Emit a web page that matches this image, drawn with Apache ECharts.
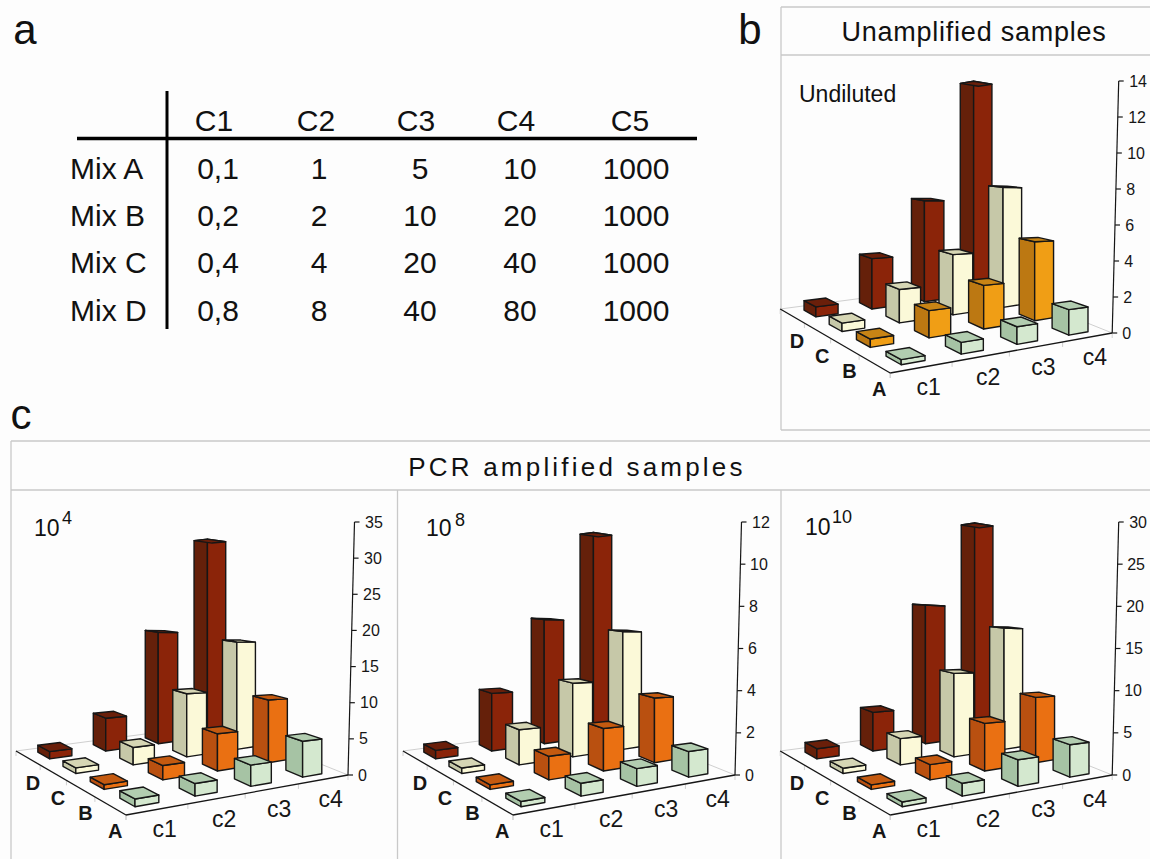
<!DOCTYPE html>
<html><head><meta charset="utf-8">
<script src="https://cdn.jsdelivr.net/npm/echarts@6/dist/echarts.min.js"></script>
<style>html,body{margin:0;padding:0;background:#fdfdfd}#main{width:1150px;height:859px}</style>
</head><body><div id="main"></div>
<script>
// ---------- data ----------
const columnNames = ['c1','c2','c3','c4'];
const rowNames = ['A','B','C','D'];
const undilutedA = [0.25,0.6,0.93,1.4];
const undilutedB = [0.43,1.45,2.4,4.5];
const undilutedC = [0.45,1.85,3.45,7.1];
const undilutedD = [0.55,2.9,6.0,13.1];
const pcr4A = [0.95,1.6,2.8,4.9];
const pcr4B = [0.6,1.9,5.1,8.9];
const pcr4C = [0.75,2.4,9,15.8];
const pcr4D = [1.0,4.7,16.5,30.2];
const pcr8A = [0.22,0.56,0.8,1.2];
const pcr8B = [0.2,1.07,2,3.15];
const pcr8C = [0.25,1.66,3.6,5.95];
const pcr8D = [0.4,2.83,6.3,10.7];
const pcr10A = [0.5,1.4,3,3.8];
const pcr10B = [0.5,1.73,5.6,7.95];
const pcr10C = [0.6,3.1,10.2,15.3];
const pcr10D = [1.2,4.75,17.6,28];
const tableColumns = ['C1','C2','C3','C4','C5'];
const tableRows = ['Mix A','Mix B','Mix C','Mix D'];
const tableMixA = ['0,1','1','5','10','1000'];
const tableMixB = ['0,2','2','10','20','1000'];
const tableMixC = ['0,4','4','20','40','1000'];
const tableMixD = ['0,8','8','40','80','1000'];
const orangeB = ['#F09E15','#BC7812','#C88415'];
const orangeC = ['#EA7012','#B95010','#C45A10'];
const red = ['#8B2409','#65200A','#6A1F0A'];
const cream = ['#FBF9D8','#C6C8A8','#D6D6B4'];
const green = ['#D4E8CF','#A6C3A4','#B2CDB0'];

// ---------- floor projection (offsets from the right corner of the floor) ----------
const P00=[-222,40],P10=[0,0],P11=[-127,-51],P01=[-332,-24];
const dx1=P10[0]-P11[0],dx2=P01[0]-P11[0],sx=P00[0]-P10[0]+P11[0]-P01[0];
const dy1=P10[1]-P11[1],dy2=P01[1]-P11[1],sy=P00[1]-P10[1]+P11[1]-P01[1];
const den=dx1*dy2-dx2*dy1;
const G=(sx*dy2-dx2*sy)/den,H=(dx1*sy-sx*dy1)/den;
const A_=P10[0]-P00[0]+G*P10[0],B_=P01[0]-P00[0]+H*P01[0],C_=P00[0];
const D_=P10[1]-P00[1]+G*P10[1],E_=P01[1]-P00[1]+H*P01[1],F_=P00[1];
function proj(rx,ry,u,v){const w=1+G*u+H*v;return [rx+(A_*u+B_*v+C_)/w,ry+(D_*u+E_*v+F_)/w,w];}
const W_AXIS=1+G;
const BAR_U=0.097,BAR_V=0.12,TILT=6.5,HEIGHT_FALLOFF=2.2;
const INK='#161616',FAINT='#cfcfcf';
const FONT='"Liberation Sans",Arial,sans-serif';

function poly(pts,fill,stroke,lw){return {type:'polygon',shape:{points:pts},style:{fill:fill,stroke:stroke,lineWidth:lw,lineJoin:'round'}};}
function line(a,b,stroke,lw){return {type:'line',shape:{x1:a[0],y1:a[1],x2:b[0],y2:b[1]},style:{stroke:stroke,lineWidth:lw,fill:null}};}
function txt(s,x,y,size,weight,align){return {type:'text',style:{text:s,x:x,y:y,fontSize:size,fontWeight:weight||'normal',fontFamily:FONT,fill:INK,align:align||'center',verticalAlign:'middle'}};}

function renderBar(colors,shift){return function(params,api){
  const cs=params.coordSys,rx=cs.x+cs.width+shift,ry=cs.y+cs.height;
  const col=api.value(0),val=api.value(1),row=api.value(2);
  const pal=row===3?red:row===2?cream:row===1?colors:green;
  const h=api.coord([0,0])[1]-api.coord([0,val])[1];
  const cu=(col+.5)/4,cv=(row+.5)/4;
  const u0=cu-BAR_U/2,u1=cu+BAR_U/2,v0=cv-BAR_V/2,v1=cv+BAR_V/2;
  const base=(u,v)=>proj(rx,ry,u,v);
  const f=base(u0,v0),r=base(u1,v0),l=base(u0,v1),b=base(u1,v1);
  const wf=f[2];
  const up=p=>[p[0],p[1]-h*(W_AXIS/wf)*Math.pow(wf/p[2],HEIGHT_FALLOFF)];
  const ft=up(f),rt=up(r),lt=up(l),bt=up(b);
  return {type:'group',children:[
    poly([l,f,ft,lt],pal[1],INK,1.4),
    poly([f,r,rt,ft],pal[0],INK,1.4),
    poly([ft,rt,bt,lt],pal[2],INK,1.4)
  ]};
};}

function renderFloor(params,api){
  const cs=params.coordSys,rx=cs.x+cs.width,ry=cs.y+cs.height;
  const fr=proj(rx,ry,0,0),ri=proj(rx,ry,1,0),bk=proj(rx,ry,1,1),le=proj(rx,ry,0,1);
  const kids=[line(le,bk,FAINT,1),line(bk,ri,FAINT,1)];
  for(let i=0;i<=4;i++){
    const p=proj(rx,ry,i/4,0),q=proj(rx,ry,0,i/4);
    kids.push(line(p,[p[0],p[1]+5],FAINT,1));
    kids.push(line(q,[q[0],q[1]+5],FAINT,1));
  }
  kids.push(line(le,fr,INK,1.3),line(fr,ri,INK,1.3));
  columnNames.forEach((n,i)=>{const p=proj(rx,ry,(i+.5)/4,0);kids.push(txt(n,p[0]+7,p[1]+20,23));});
  rowNames.forEach((n,i)=>{const p=proj(rx,ry,0,(i+.5)/4);kids.push(txt(n,p[0]+5,p[1]+25,20,'bold'));});
  return {type:'group',children:kids};
}

function renderAxis(max,step){return function(params,api){
  const cs=params.coordSys,rx=cs.x+cs.width;
  const at=v=>[rx+TILT*v/max,api.coord([0,v])[1]];
  const kids=[line(at(0),at(max),INK,1.2)];
  for(let v=0;v<=max;v+=step){const p=at(v);kids.push(line(p,[p[0]+5,p[1]],INK,1.2));}
  return {type:'group',children:kids};
};}

const panels=[
 {left:785,top:81,h:252,max:14,step:2,shift:0,orange:orangeB,rows:[undilutedA,undilutedB,undilutedC,undilutedD]},
 {left:16,top:522,h:253,max:35,step:5,shift:-2,orange:orangeC,rows:[pcr4A,pcr4B,pcr4C,pcr4D]},
 {left:403,top:522,h:253,max:12,step:2,shift:-3,orange:orangeC,rows:[pcr8A,pcr8B,pcr8C,pcr8D]},
 {left:786,top:522,h:253,max:30,step:5,shift:1,orange:orangeC,rows:[pcr10A,pcr10B,pcr10C,pcr10D]}
];
const grid=[],xAxis=[],yAxis=[],series=[];
panels.forEach((p,i)=>{
  grid.push({left:p.left,top:p.top,width:332,height:p.h});
  xAxis.push({gridIndex:i,type:'category',data:columnNames,show:false});
  const rich={};
  for(let k=0;k<=7;k++)rich['t'+k]={fontSize:16,fontFamily:FONT,color:INK,padding:[0,0,0,k]};
  yAxis.push({gridIndex:i,type:'value',position:'right',min:0,max:p.max,interval:p.step,
    axisLine:{show:false},axisTick:{show:false},splitLine:{show:false},
    axisLabel:{show:true,margin:10,align:'left',fontSize:16,fontFamily:FONT,color:INK,
      formatter:v=>'{t'+Math.round(TILT*v/p.max)+'|'+v+'}',rich:rich}});
  series.push({type:'custom',xAxisIndex:i,yAxisIndex:i,renderItem:renderFloor,data:[[0,0]],silent:true,z:1});
  series.push({type:'custom',xAxisIndex:i,yAxisIndex:i,renderItem:renderAxis(p.max,p.step),data:[[0,0]],silent:true,z:1});
  const items=[];
  for(let r=3;r>=0;r--)for(let c=3;c>=0;c--)items.push([c,p.rows[r][c],r]);
  series.push({type:'custom',xAxisIndex:i,yAxisIndex:i,renderItem:renderBar(p.orange,p.shift),
    encode:{x:0,y:1},data:items,silent:true,z:2,clip:false});
});

// ---------- panel frames, headings and table ----------
const g=[];
const gLine=(x1,y1,x2,y2,c,w)=>g.push({type:'line',shape:{x1,y1,x2,y2},style:{stroke:c,lineWidth:w}});
const gText=(s,x,y,size,align)=>g.push({type:'text',x:x,y:y,style:{text:s,fontSize:size,fontFamily:FONT,fill:'#111',align:align||'center',verticalAlign:'middle'}});
const FR='#c9c9c9';
gLine(781,7,1150,7,FR,1.3);gLine(781,7,781,430,FR,1.3);gLine(781,55,1150,55,FR,1.3);gLine(781,430,1150,430,FR,1.3);
gLine(11,441,1150,441,FR,1.3);gLine(11,441,11,859,FR,1.3);gLine(11,490,1150,490,FR,1.3);
gLine(397.5,490,397.5,859,FR,1.3);gLine(781,490,781,859,FR,1.3);
gText('a',25,29,42);gText('b',750,29,42);gText('c',21,414,42);
gText('Unamplified samples',974,32,27);gText('PCR amplified samples',577,467,26);
gText('Undiluted',799,94,23,'left');
gText('10',34,528,23,'left');gText('4',62,518,18,'left');
gText('10',426,528,23,'left');gText('8',455,520,18,'left');
gText('10',805,527,23,'left');gText('10',832,517,18,'left');
gLine(77,138.5,697,138.5,'#000',3.5);gLine(167,91,167,329,'#000',3);
const headX=[214,316,416,516,630],cellX=[218,319,420,520,636],rowY=[168,215,262,310];
tableColumns.forEach((t,i)=>gText(t,headX[i],120,30));
[tableMixA,tableMixB,tableMixC,tableMixD].forEach((vals,r)=>{
  gText(tableRows[r],70,rowY[r],30,'left');
  vals.forEach((t,i)=>gText(t,cellX[i],rowY[r],30));
});

const chart=echarts.init(document.getElementById('main'),null,{renderer:'svg',width:1150,height:859});
chart.setOption({animation:false,backgroundColor:'#fdfdfd',tooltip:{show:false},grid,xAxis,yAxis,series,graphic:{elements:g}});
function spacing(){
  document.querySelectorAll('#main text').forEach(t=>{
    if(t.textContent==='PCR amplified samples')t.style.letterSpacing='3.2px';
    if(t.textContent==='Unamplified samples')t.style.letterSpacing='0.75px';
  });
}
spacing();chart.on('finished',spacing);
</script></body></html>
